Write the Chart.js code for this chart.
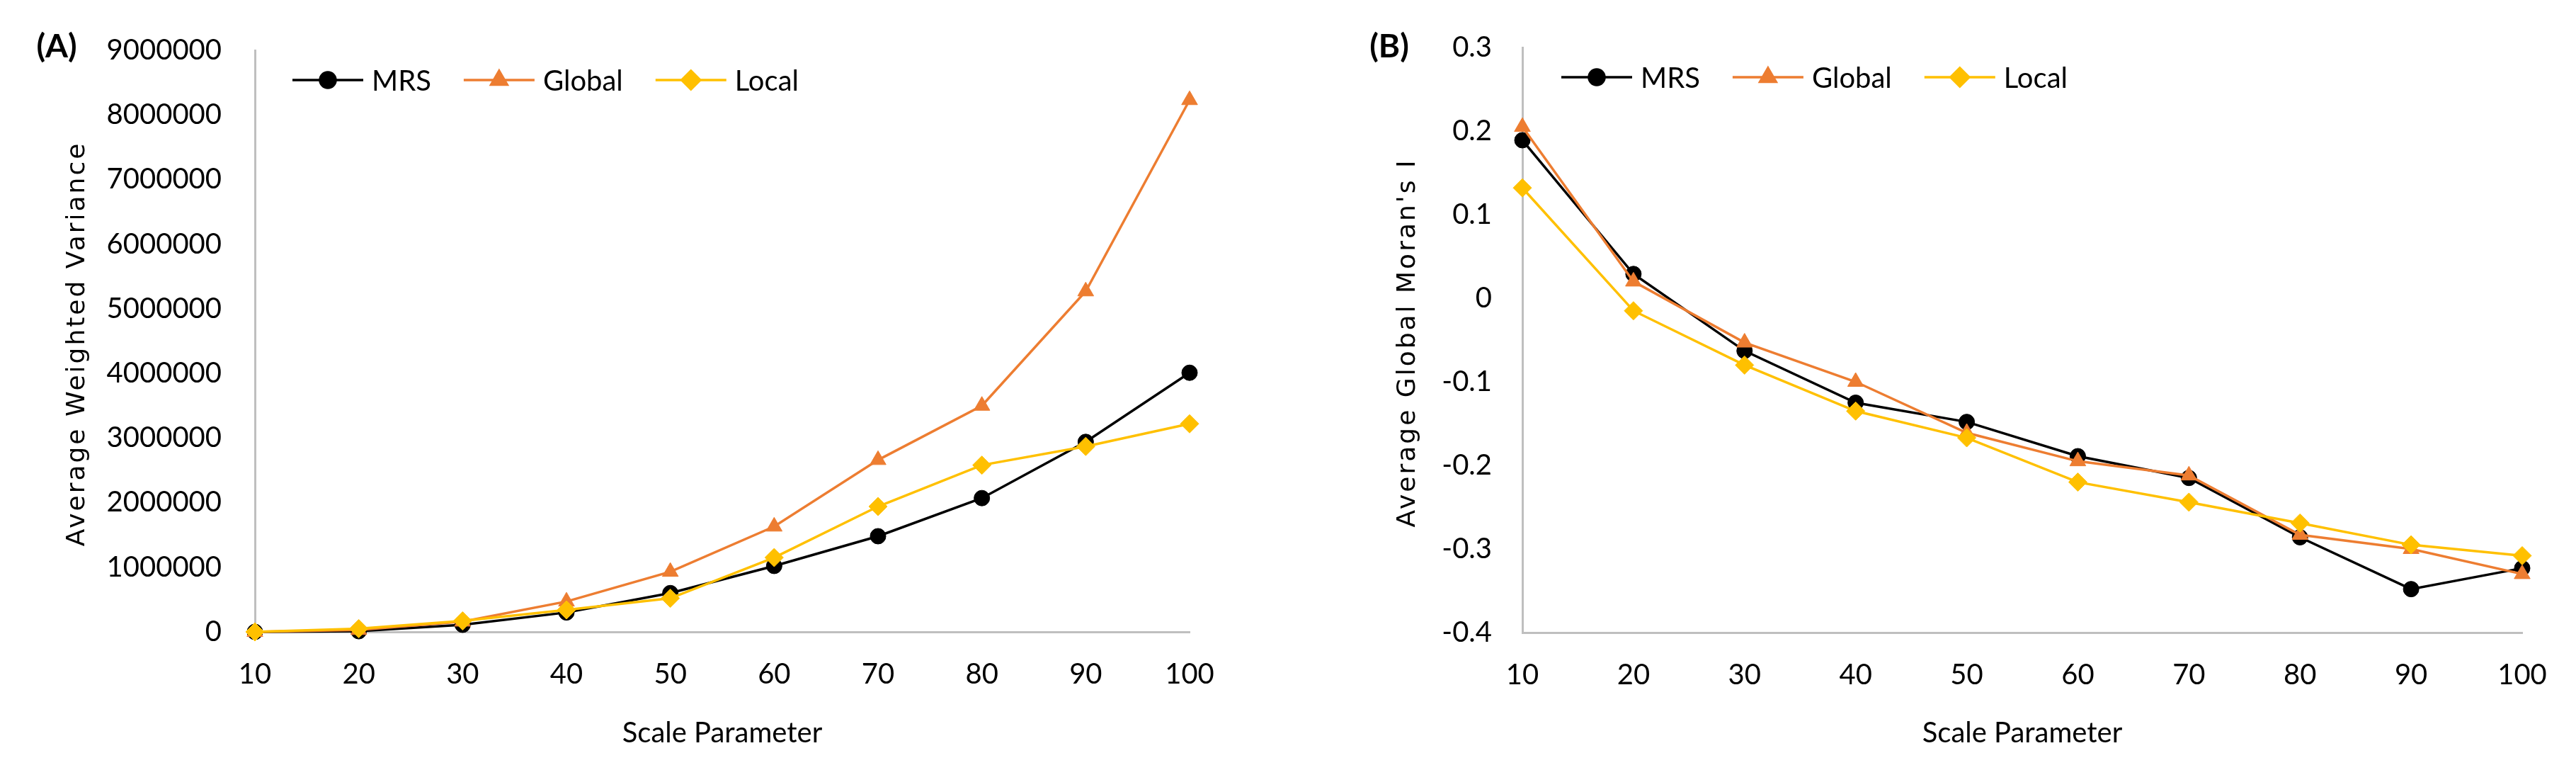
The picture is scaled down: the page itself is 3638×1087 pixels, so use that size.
<!DOCTYPE html>
<html>
<head>
<meta charset="utf-8">
<script src="https://cdn.jsdelivr.net/npm/chart.js@4.4.1/dist/chart.umd.min.js"></script>
<style>
  html, body { margin: 0; padding: 0; background: #ffffff; }
  .panel { position: absolute; top: 0; width: 1819px; height: 1087px; }
</style>
</head>
<body>
<div class="panel" style="left:0"><canvas id="chartA" width="1819" height="1087"></canvas></div>
<div class="panel" style="left:1819px"><canvas id="chartB" width="1819" height="1087"></canvas></div>
<script>
// x categories shared by both panels
const scaleParams = ["10", "20", "30", "40", "50", "60", "70", "80", "90", "100"];
const seriesNames = ["MRS", "Global", "Local"];

// (A) average weighted variance
const mrsVariance = [0, 10000, 110000, 300000, 600000, 1020000, 1480000, 2070000, 2940000, 4010000];
const globalVariance = [0, 30000, 160000, 470000, 930000, 1630000, 2660000, 3500000, 5270000, 8230000];
const localVariance = [0, 50000, 170000, 340000, 520000, 1150000, 1940000, 2580000, 2870000, 3220000];

// (B) average global Moran's I
const mrsMoran = [0.189, 0.029, -0.063, -0.125, -0.148, -0.189, -0.215, -0.286, -0.348, -0.323];
const globalMoran = [0.205, 0.02, -0.053, -0.1, -0.161, -0.195, -0.212, -0.283, -0.3, -0.33];
const localMoran = [0.132, -0.015, -0.08, -0.135, -0.167, -0.22, -0.244, -0.269, -0.295, -0.308];

const colours = { MRS: "#000000", Global: "#ED7D31", Local: "#FFC000" };
const markers = { MRS: ["circle", 11], Global: ["triangle", 13], Local: ["rectRot", 13] };
const tickFont = { family: "Lato", size: 40 };
const axisGrey = "#BFBFBF";

function makeDatasets(valueLists) {
    return seriesNames.map((name, i) => ({
        label: name,
        data: valueLists[i],
        borderColor: colours[name],
        backgroundColor: colours[name],
        pointBackgroundColor: colours[name],
        pointBorderColor: colours[name],
        pointStyle: markers[name][0],
        pointRadius: markers[name][1],
        pointBorderWidth: 1,
        borderWidth: 3.5,
        tension: 0,
        clip: false,
        order: 3 - i   // Local drawn on top, like the original
    }));
}

// legend with line-through-marker samples, the (A)/(B) tag and the
// letter-spaced y title (chart.js titles can't do letter spacing)
const panelLegend = {
    id: "panelLegend",
    afterDraw(chart, args, opts) {
        const ctx = chart.ctx;
        const area = chart.chartArea;
        ctx.save();
        ctx.font = "bold 46px Lato";
        ctx.fillStyle = "#000";
        ctx.textAlign = "center";
        ctx.textBaseline = "middle";
        ctx.fillText(opts.tag, opts.tagX, opts.tagY);

        ctx.save();
        ctx.translate(opts.yTitleX, (area.top + area.bottom) / 2 + 4);
        ctx.rotate(-Math.PI / 2);
        ctx.font = "36px 'DejaVu Sans'";
        ctx.letterSpacing = "3px";
        ctx.fillText(opts.yTitle, 0, 0);
        ctx.restore();

        ctx.font = "40px Lato";
        ctx.textAlign = "left";
        let x = opts.x;
        chart.data.datasets.forEach(ds => {
            ctx.strokeStyle = ds.borderColor;
            ctx.lineWidth = 3.5;
            ctx.beginPath();
            ctx.moveTo(x, opts.y);
            ctx.lineTo(x + 100, opts.y);
            ctx.stroke();
            ctx.fillStyle = ds.borderColor;
            Chart.helpers.drawPoint(ctx, {
                pointStyle: ds.pointStyle, radius: ds.pointRadius, rotation: 0, borderWidth: 1
            }, x + 50, opts.y);
            ctx.fillStyle = "#000";
            ctx.fillText(ds.label, x + 112, opts.y + 2);
            x += 112 + ctx.measureText(ds.label).width + 46;
        });
        ctx.restore();
    }
};

function buildPanel(canvasId, valueLists, yOpts, layout, legendOpts) {
    const ctx = document.getElementById(canvasId).getContext("2d");
    return new Chart(ctx, {
        type: "line",
        data: { labels: scaleParams, datasets: makeDatasets(valueLists) },
        options: {
            responsive: false,
            animation: false,
            devicePixelRatio: 1,
            layout: { padding: layout.padding },
            plugins: {
                legend: { display: false },
                tooltip: { enabled: false },
                panelLegend: legendOpts
            },
            scales: {
                x: {
                    offset: false,
                    grid: { display: false, drawTicks: false },
                    border: { display: true, color: axisGrey, width: 3 },
                    ticks: { font: tickFont, color: "#000", padding: 36, maxRotation: 0, autoSkip: false },
                    title: {
                        display: true, text: "Scale Parameter", color: "#000",
                        font: { family: "Lato", size: 40 }, padding: { top: 0, bottom: 28 }
                    },
                    afterFit: s => { s.height = layout.xHeight; }
                },
                y: {
                    min: yOpts.min, max: yOpts.max,
                    grid: { display: false, drawTicks: false },
                    border: { display: true, color: axisGrey, width: 3 },
                    ticks: {
                        font: tickFont, color: "#000", padding: yOpts.pad,
                        stepSize: yOpts.step,
                        callback: yOpts.format
                    },
                    afterFit: s => { s.width = layout.yWidth; }
                }
            }
        },
        plugins: [panelLegend]
    });
}

buildPanel("chartA", [mrsVariance, globalVariance, localVariance],
    { min: 0, max: 9000000, step: 1000000, pad: 47, format: v => String(v) },
    { padding: { left: 0, top: 62, right: 139, bottom: 0 }, xHeight: 195, yWidth: 360 },
    { tag: "(A)", tagX: 80, tagY: 66, x: 413, y: 113,
      yTitle: "Average Weighted Variance", yTitleX: 110 });

buildPanel("chartB", [mrsMoran, globalMoran, localMoran],
    { min: -0.4, max: 0.3, step: 0.1, pad: 43, format: v => String(Number(v.toFixed(1))) },
    { padding: { left: 0, top: 62, right: 76, bottom: 0 }, xHeight: 194, yWidth: 331 },
    { tag: "(B)", tagX: 143, tagY: 66, x: 386, y: 109,
      yTitle: "Average Global Moran's I", yTitleX: 170 });
</script>
</body>
</html>
